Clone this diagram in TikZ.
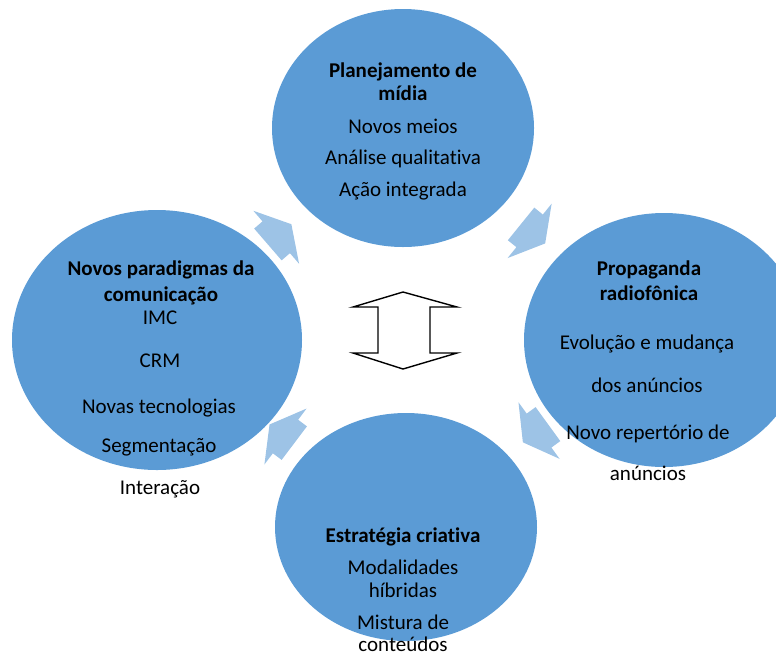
\documentclass[tikz,border=0pt]{standalone}
\usepackage{fontspec}
\setmainfont{Carlito}[Ligatures=NoCommon]
\usetikzlibrary{calc,shapes.geometric}
\definecolor{circblue}{HTML}{5B9BD5}
\definecolor{arrowblue}{HTML}{9DC3E6}
\tikzset{
  topic/.style={ellipse, fill=circblue, draw=none, inner sep=0pt},
  txt/.style={anchor=base, inner sep=0pt, font=\fontsize{21}{23}\selectfont},
  head/.style={txt, font=\fontsize{21}{23}\selectfont\bfseries},
  blockarrow/.style={fill=arrowblue, draw=none},
  updown/.style={draw=black, line width=1.4pt, fill=white, line join=miter}
}
% block arrow placed halfway between two topics, pointing from the first to the second
\newcommand{\cyclearrow}[3]{%
  \path[blockarrow, shift={($(#1)!0.5!(#2)$)}, rotate=#3]
    (-16,21) -- (-5,21) -- (-5,35) -- (15,0) -- (-5,-35) -- (-5,-21) -- (-16,-21) -- cycle;}
\begin{document}
\begin{tikzpicture}[x=1pt, y=-1pt]
\useasboundingbox (0,0) rectangle (776,657);
\clip (0,0) rectangle (776,657);

% the four topics
\node[topic, minimum width=262pt, minimum height=238pt] (plan) at (403,128) {};
\node[topic, minimum width=290pt, minimum height=260pt] (para) at (157,340) {};
\node[topic, minimum width=280pt, minimum height=254pt] (radio) at (664,340) {};
\node[topic, minimum width=262pt, minimum height=228pt] (estr) at (406,527) {};

% arrows running clockwise round the cycle
\cyclearrow{para}{plan}{40.8}
\cyclearrow{plan}{radio}{-39}
\cyclearrow{radio}{estr}{-144}
\cyclearrow{estr}{para}{143}

% up-down arrow in the middle
\draw[updown] (403,292) -- (457,307) -- (430,307) -- (430,353) -- (457,353)
  -- (403,369) -- (353,353) -- (378,353) -- (378,307) -- (353,307) -- cycle;

% Planejamento de mídia
\node[head] (p1) at (403,77) {Planejamento de};
\node[head] (p2) at (403,100) {mídia};
\node[txt] (p3) at (403,133) {Novos meios};
\node[txt] (p4) at (403,164) {Análise qualitativa};
\node[txt] (p5) at (403,196) {Ação integrada};

% Novos paradigmas da comunicação
\node[head] (n1) at (161,275) {Novos paradigmas da};
\node[head] (n2) at (161,301) {comunicação};
\node[txt] (n3) at (160,324) {IMC};
\node[txt] (n4) at (160,367) {CRM};
\node[txt] (n5) at (159,413) {Novas tecnologias};
\node[txt] (n6) at (159,452) {Segmentação};
\node[txt] (n7) at (160,494) {Interação};

% Propaganda radiofônica
\node[head] (r1) at (649,275) {Propaganda};
\node[head] (r2) at (649,300) {radiofônica};
\node[txt] (r3) at (647,349) {Evolução e mudança};
\node[txt] (r4) at (647,392) {dos anúncios};
\node[txt] (r5) at (648,439) {Novo repertório de};
\node[txt] (r6) at (648,480) {anúncios};

% Estratégia criativa
\node[head] (e1) at (403,542) {Estratégia criativa};
\node[txt] (e2) at (403,574) {Modalidades};
\node[txt] (e3) at (403,597) {híbridas};
\node[txt] (e4) at (403,629) {Mistura de};
\node[txt] (e5) at (403,651) {conteúdos};
\end{tikzpicture}
\end{document}
